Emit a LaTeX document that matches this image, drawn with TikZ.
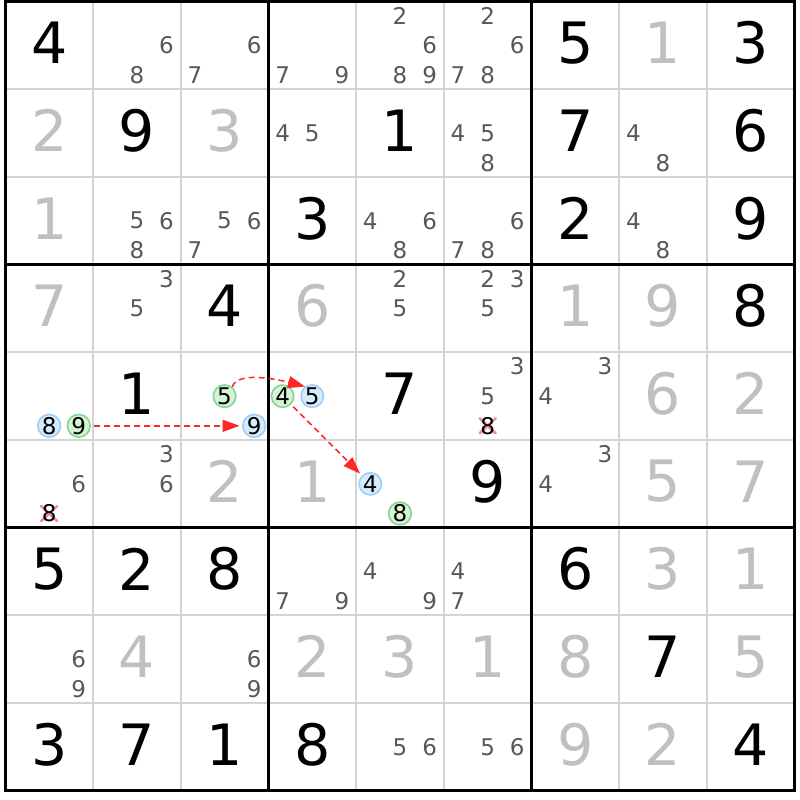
\documentclass[tikz,border=0pt]{standalone}
\usepackage{fontspec}
\setmainfont{DejaVu Sans}
\usetikzlibrary{arrows.meta}
\definecolor{thingrid}{HTML}{D4D4D4}
\definecolor{solvedgray}{HTML}{C0C0C0}
\definecolor{candgray}{HTML}{585858}
\definecolor{bluefill}{HTML}{D6EBFE}
\definecolor{blueline}{HTML}{9FCDF8}
\definecolor{greenfill}{HTML}{D6F3D6}
\definecolor{greenline}{HTML}{82D692}
\definecolor{linkred}{HTML}{FF2626}
\definecolor{crossred}{HTML}{F28C98}
\begin{document}
\begin{tikzpicture}[x=1pt,y=-1pt,
  given/.style={font=\fontsize{57}{57}\selectfont, text=black, inner sep=0pt},
  solved/.style={font=\fontsize{57}{57}\selectfont, text=solvedgray, inner sep=0pt},
  cand/.style={font=\fontsize{23}{23}\selectfont, text=candgray, inner sep=0pt},
  hlblue/.style={circle, draw=blueline, fill=bluefill, line width=1.6pt, minimum size=21pt, inner sep=0pt, font=\fontsize{23}{23}\selectfont, text=black},
  hlgreen/.style={circle, draw=greenline, fill=greenfill, line width=1.6pt, minimum size=21pt, inner sep=0pt, font=\fontsize{23}{23}\selectfont, text=black},
  elim/.style={font=\fontsize{23}{23}\selectfont, text=black, inner sep=0pt},
  crossmark/.style={draw=crossred, line width=2.6pt, line cap=round},
  link/.style={draw=linkred, line width=1.5pt, dash pattern=on 6pt off 4pt, -{Triangle[length=17pt,width=12pt]}, shorten <=3pt, shorten >=2.5pt}
]
\useasboundingbox (0,0) rectangle (800,800);
\fill[white] (0,0) rectangle (800,800);

% thin grid lines
\foreach \i in {1,2,4,5,7,8} {
  \draw[thingrid, line width=2pt] ({5.3+\i*87.7},1.5) -- ({5.3+\i*87.7},790.8);
  \draw[thingrid, line width=2pt] (5.3,{1.5+\i*87.7}) -- (794.6,{1.5+\i*87.7});
}
% thick grid lines
\foreach \i in {3,6} {
  \draw[black, line width=3pt] ({5.3+\i*87.7},1.5) -- ({5.3+\i*87.7},790.8);
  \draw[black, line width=3pt] (5.3,{1.5+\i*87.7}) -- (794.6,{1.5+\i*87.7});
}
\draw[black, line width=3pt] (5.3,1.5) rectangle (794.6,790.8);

% given digits
\foreach \r/\c/\d in {1/1/4,1/7/5,1/9/3,2/2/9,2/5/1,2/7/7,2/9/6,3/4/3,3/7/2,3/9/9,
  4/3/4,4/9/8,5/2/1,5/5/7,6/6/9,7/1/5,7/2/2,7/3/8,7/7/6,8/8/7,
  9/1/3,9/2/7,9/3/1,9/4/8,9/9/4}
  \node[given] (g\r\c) at ({5.3+(\c-0.5)*87.7},{1.5+(\r-0.5)*87.7-2.5}) {\d};

% solved digits
\foreach \r/\c/\d in {1/8/1,2/1/2,2/3/3,3/1/1,4/1/7,4/4/6,4/7/1,4/8/9,5/8/6,5/9/2,
  6/3/2,6/4/1,6/8/5,6/9/7,7/8/3,7/9/1,8/2/4,8/4/2,8/5/3,8/6/1,8/7/8,8/9/5,9/7/9,9/8/2}
  \node[solved] (s\r\c) at ({5.3+(\c-0.5)*87.7},{1.5+(\r-0.5)*87.7-2.5}) {\d};

% candidates
\foreach \r/\c/\d in {1/2/6,1/2/8,1/3/6,1/3/7,1/4/7,1/4/9,1/5/2,1/5/6,1/5/8,1/5/9,
  1/6/2,1/6/6,1/6/7,1/6/8,2/4/4,2/4/5,2/6/4,2/6/5,2/6/8,2/8/4,2/8/8,
  3/2/5,3/2/6,3/2/8,3/3/5,3/3/6,3/3/7,3/5/4,3/5/6,3/5/8,3/6/6,3/6/7,3/6/8,3/8/4,3/8/8,
  4/2/3,4/2/5,4/5/2,4/5/5,4/6/2,4/6/3,4/6/5,5/6/3,5/6/5,5/7/3,5/7/4,
  6/1/6,6/2/3,6/2/6,6/7/3,6/7/4,7/4/7,7/4/9,7/5/4,7/5/9,7/6/4,7/6/7,
  8/1/6,8/1/9,8/3/6,8/3/9,9/5/5,9/5/6,9/6/5,9/6/6} {
  \pgfmathsetmacro\cxx{5.3+(\c-1)*87.7+14.2+29.65*mod(\d-1,3)}
  \pgfmathsetmacro\cyy{1.5+(\r-1)*87.7+14.2+29.65*floor((\d-1)/3)}
  \node[cand] (c\r\c\d) at (\cxx,\cyy) {\d};
}

% eliminated candidates (crossed)
\foreach \r/\c/\d in {5/6/8,6/1/8} {
  \pgfmathsetmacro\cxx{5.3+(\c-1)*87.7+14.2+29.65*mod(\d-1,3)}
  \pgfmathsetmacro\cyy{1.5+(\r-1)*87.7+14.2+29.65*floor((\d-1)/3)}
  \pgfmathsetmacro\xa{\cxx-8}
  \pgfmathsetmacro\xb{\cxx+8}
  \pgfmathsetmacro\ya{\cyy-7.5}
  \pgfmathsetmacro\yb{\cyy+7.5}
  \draw[crossmark] (\xa,\ya) -- (\xb,\yb);
  \draw[crossmark] (\xa,\yb) -- (\xb,\ya);
  \node[elim] (x\r\c\d) at (\cxx,\cyy) {\d};
}

% highlighted candidates
\foreach \r/\c/\d/\st in {5/1/8/hlblue,5/1/9/hlgreen,5/3/5/hlgreen,5/3/9/hlblue,
  5/4/4/hlgreen,5/4/5/hlblue,6/5/4/hlblue,6/5/8/hlgreen} {
  \pgfmathsetmacro\cxx{5.3+(\c-1)*87.7+14.2+29.65*mod(\d-1,3)}
  \pgfmathsetmacro\cyy{1.5+(\r-1)*87.7+14.2+29.65*floor((\d-1)/3)}
  \node[\st] (h\r\c\d) at (\cxx,\cyy) {\d};
}

% links
\draw[link] (h519) -- (h539);
\draw[link, shorten <=0pt, shorten >=0pt] (h535.50) to[out=75,in=165,looseness=0.65] (h545.127);
\draw[link] (h544) -- (h654);
\end{tikzpicture}
\end{document}
